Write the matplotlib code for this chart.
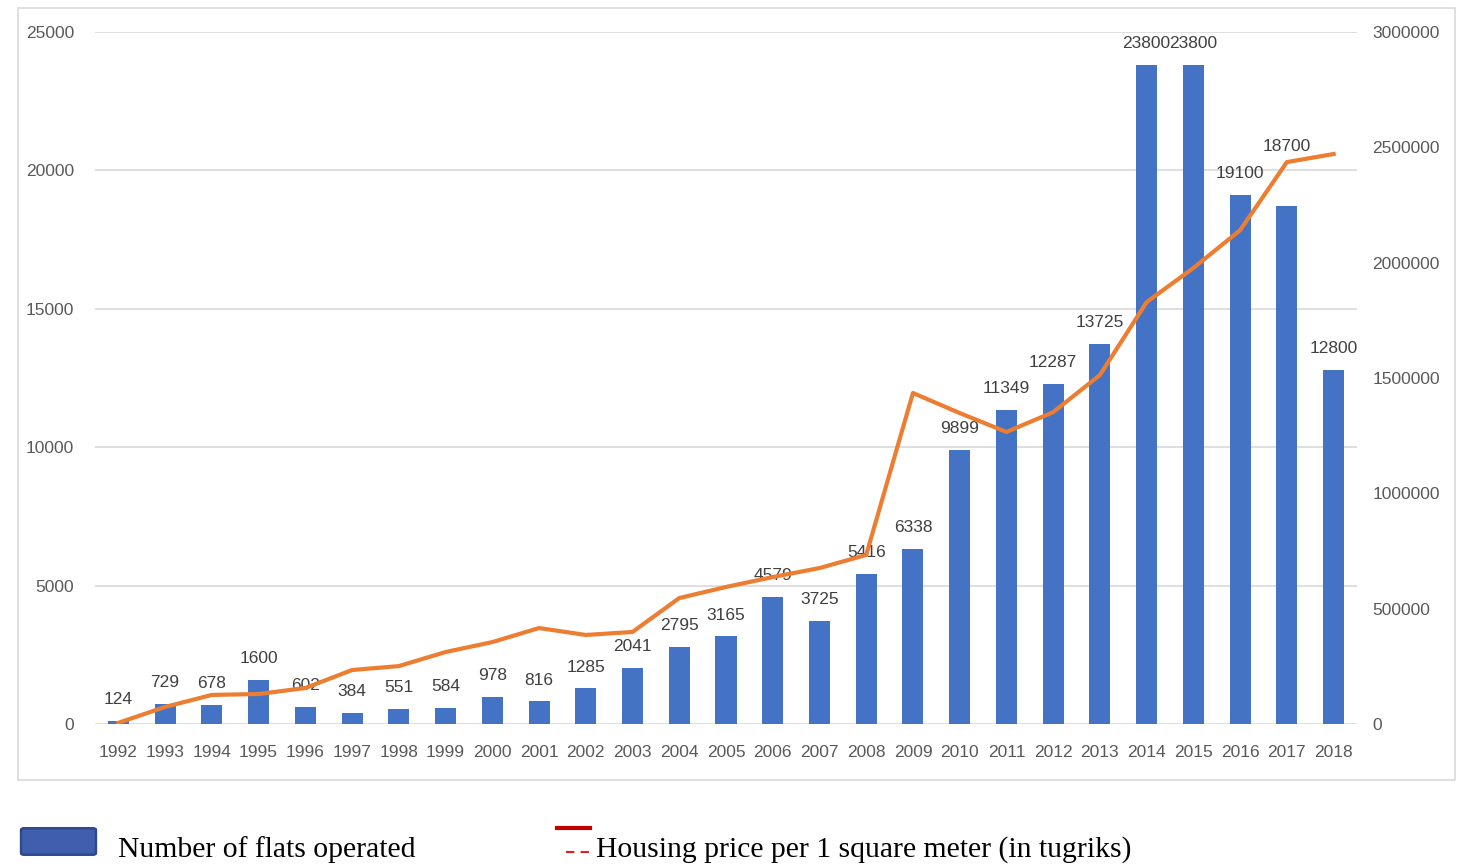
import matplotlib
matplotlib.use("Agg")
import matplotlib.pyplot as plt
from matplotlib.patches import Rectangle, FancyBboxPatch
from matplotlib.lines import Line2D
import numpy as np

years = [str(y) for y in range(1992, 2019)]
flats = [124, 729, 678, 1600, 602, 384, 551, 584, 978, 816, 1285, 2041, 2795, 3165,
         4579, 3725, 5416, 6338, 9899, 11349, 12287, 13725, 23800, 23800, 19100, 18700, 12800]
price = [5000, 74000, 126000, 130000, 156000, 234000, 251000, 312000, 355000, 416000,
         386000, 399000, 546000, 594000, 637000, 676000, 733000, 1435000, 1348000, 1266000,
         1352000, 1513000, 1829000, 1977000, 2141000, 2436000, 2471000]
left_ticks = [0, 5000, 10000, 15000, 20000, 25000]
right_ticks = [0, 500000, 1000000, 1500000, 2000000, 2500000, 3000000]
legend_labels = ["Number of flats operated", "Housing price per 1 square meter (in tugriks)"]

W, H = 1466, 867
fig = plt.figure(figsize=(W / 100, H / 100), dpi=100)
fig.patch.set_facecolor("white")

# chart frame
fig.add_artist(Rectangle((18 / W, 1 - 780 / H), (1455 - 18) / W, (780 - 8) / H,
                         transform=fig.transFigure, fill=False, edgecolor="#D9D9D9", lw=1.2))

ax = fig.add_axes([95 / W, 1 - 724 / H, (1357 - 95) / W, (724 - 32) / H])
ax2 = ax.twinx()

tick_font = dict(family="Liberation Sans", size=12.5)
x = np.arange(len(years))
ax.bar(x, flats, width=0.45, color="#4472C4", zorder=2)
ax.set_xlim(-0.5, len(years) - 0.5)
ax.set_ylim(0, 25000)
ax.set_yticks(left_ticks)
ax.set_yticklabels([str(t) for t in left_ticks], **tick_font, color="#595959")
ax.set_xticks(x)
ax.set_xticklabels(years, **tick_font, color="#595959")
ax.grid(axis="y", color="#D9D9D9", lw=1.2, zorder=0)
ax.set_axisbelow(True)
for s in ax.spines.values():
    s.set_visible(False)
for s in ax2.spines.values():
    s.set_visible(False)
ax.tick_params(axis="x", length=0, pad=15)
ax.tick_params(axis="y", length=0, pad=15)

for i, (xi, v) in enumerate(zip(x, flats)):
    dy = 10
    if years[i] == "2017":
        dy = 38
    ax.annotate(str(v), (xi, v), xytext=(0, dy), textcoords="offset points",
                ha="center", va="bottom", color="#404040", **tick_font, zorder=4)

ax2.plot(x, price, color="#ED7D31", lw=3, zorder=3)
ax2.set_ylim(0, 3000000)
ax2.set_yticks(right_ticks)
ax2.set_yticklabels([str(t) for t in right_ticks], **tick_font, color="#595959")
ax2.tick_params(length=0, pad=11)

# legend
fig.add_artist(FancyBboxPatch((24 / W, 1 - 853 / H), (93 - 24) / W, (853 - 830) / H,
                              boxstyle="round,pad=0.002", transform=fig.transFigure,
                              facecolor="#3F5FAE", edgecolor="#2E4A8C", lw=1.8))
fig.text(118 / W, 1 - 850 / H, legend_labels[0], family="Liberation Serif", size=21.3,
         va="center", ha="left", color="black")
fig.add_artist(Line2D([557 / W, 590 / W], [1 - 828 / H, 1 - 828 / H], color="#C00000",
                      lw=3, transform=fig.transFigure))
fig.add_artist(Line2D([566 / W, 589 / W], [1 - 852 / H, 1 - 852 / H], color="#E02020",
                      lw=1.5, ls=(0, (4, 3)), transform=fig.transFigure))
fig.text(596 / W, 1 - 850 / H, legend_labels[1], family="Liberation Serif", size=21.3,
         va="center", ha="left", color="black")

fig.savefig("out.png", dpi=100)
